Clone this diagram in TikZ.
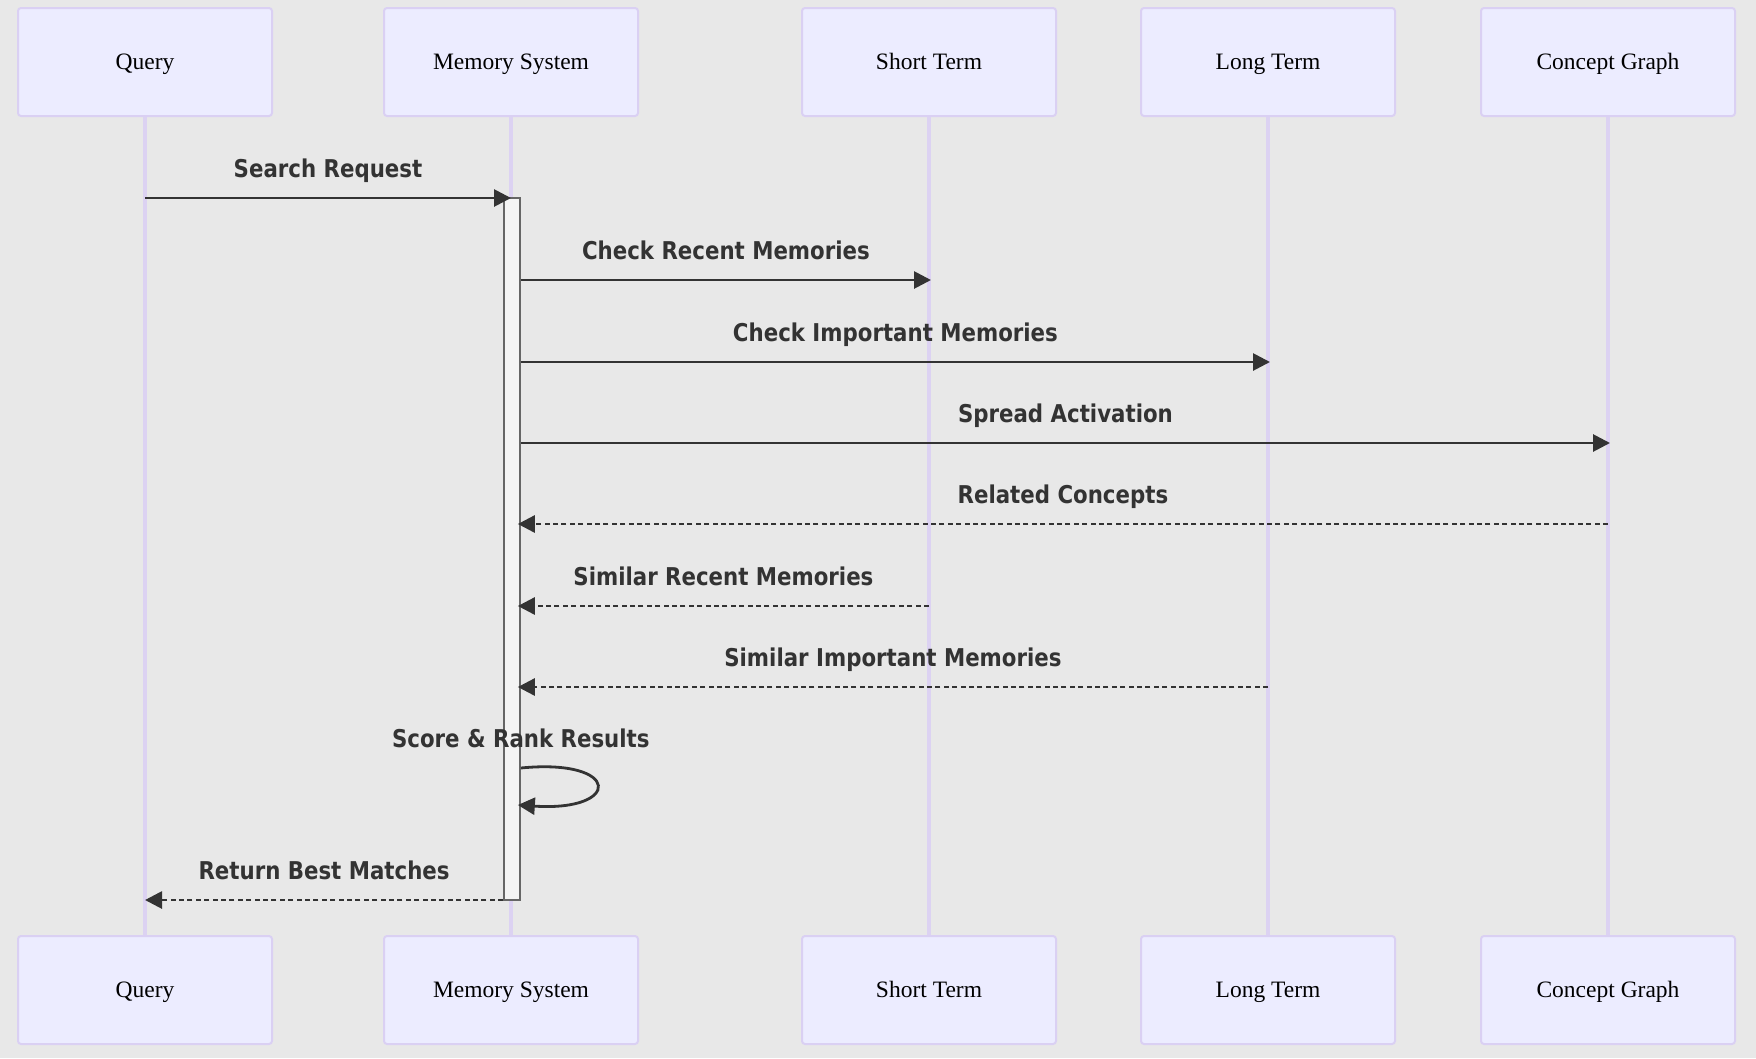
\documentclass[tikz,border=0pt]{standalone}
\usepackage{fontspec}
\usetikzlibrary{arrows.meta}
\newfontfamily\lblfont{DejaVu Sans}[FakeStretch=0.87]
\newfontfamily\actfont{Liberation Serif}
\definecolor{bgc}{HTML}{E8E8E8}
\definecolor{actfill}{HTML}{ECECFF}
\definecolor{actline}{HTML}{DAD0F3}
\definecolor{lifeline}{HTML}{DCD2F2}
\definecolor{ink}{HTML}{333333}
\definecolor{barfill}{HTML}{F4F4F4}
\definecolor{barline}{HTML}{666666}
\tikzset{
  actor/.style={draw=actline, fill=actfill, line width=2pt, rounded corners=3pt,
    minimum width=254pt, minimum height=108pt, inner sep=0pt,
    text height=18pt, text depth=3pt,
    font=\actfont\fontsize{23.5}{27}\selectfont, text=black},
  life/.style={draw=lifeline, line width=3.6pt},
  msg/.style={draw=ink, line width=2.8pt, -{Triangle[length=17pt,width=17pt]}},
  reply/.style={msg, dash pattern=on 5pt off 3.4pt},
  lbl/.style={font=\lblfont\bfseries\fontsize{24.5}{28}\selectfont, text=ink, inner sep=0pt},
  actbar/.style={draw=barline, fill=barfill, line width=1.7pt, minimum width=16pt,
    minimum height=702pt, inner sep=0pt}
}
\begin{document}
\begin{tikzpicture}[x=1pt,y=-1pt]
\useasboundingbox (0,0) rectangle (1756,1058);
\fill[bgc] (0,0) rectangle (1756,1058);
% actors top
\node[actor] (qT)  at (145,62) {Query};
\node[actor] (msT) at (511,62) {Memory System};
\node[actor] (stT) at (929,62) {Short Term};
\node[actor] (ltT) at (1268,62) {Long Term};
\node[actor] (cgT) at (1608,62) {Concept Graph};
% actors bottom
\node[actor] (qB)  at (145,990) {Query};
\node[actor] (msB) at (511,990) {Memory System};
\node[actor] (stB) at (929,990) {Short Term};
\node[actor] (ltB) at (1268,990) {Long Term};
\node[actor] (cgB) at (1608,990) {Concept Graph};
% lifelines
\draw[life] (qT.south) -- (qB.north);
\draw[life] (msT.south) -- (msB.north);
\draw[life] (stT.south) -- (stB.north);
\draw[life] (ltT.south) -- (ltB.north);
\draw[life] (cgT.south) -- (cgB.north);
% activation bar
\node[actbar] (act) at (512,549) {};
% messages
\draw[msg] (qT.south |- 0,198) -- node[lbl, anchor=base, yshift=21pt] {Search Request} (msT.south |- 0,198);
\draw[msg] (act.east |- 0,280) -- node[lbl, anchor=base, yshift=21pt] {Check Recent Memories} ([xshift=2pt]stT.south |- 0,280);
\draw[msg] (act.east |- 0,362) -- node[lbl, anchor=base, yshift=21pt] {Check Important Memories} ([xshift=2pt]ltT.south |- 0,362);
\draw[msg] (act.east |- 0,443) -- node[lbl, anchor=base, yshift=21pt] {Spread Activation} ([xshift=2pt]cgT.south |- 0,443);
\draw[reply] (cgT.south |- 0,524) -- node[lbl, anchor=base, yshift=21pt] {Related Concepts} ([xshift=-3pt]act.east |- 0,524);
\draw[reply] (stT.south |- 0,606) -- node[lbl, anchor=base, yshift=21pt] {Similar Recent Memories} ([xshift=-3pt]act.east |- 0,606);
\draw[reply] (ltT.south |- 0,687) -- node[lbl, anchor=base, yshift=21pt] {Similar Important Memories} ([xshift=-3pt]act.east |- 0,687);
\node[lbl, anchor=base] (selflbl) at (act.east |- 0,747) {Score \& Rank Results};
\draw[msg] (act.east |- 0,768) .. controls (622,758) and (622,812) .. ([xshift=-3pt]act.east |- 0,805);
\draw[reply] (act.west |- 0,900) -- node[lbl, anchor=base, yshift=21pt] {Return Best Matches} (qT.south |- 0,900);
\end{tikzpicture}
\end{document}
